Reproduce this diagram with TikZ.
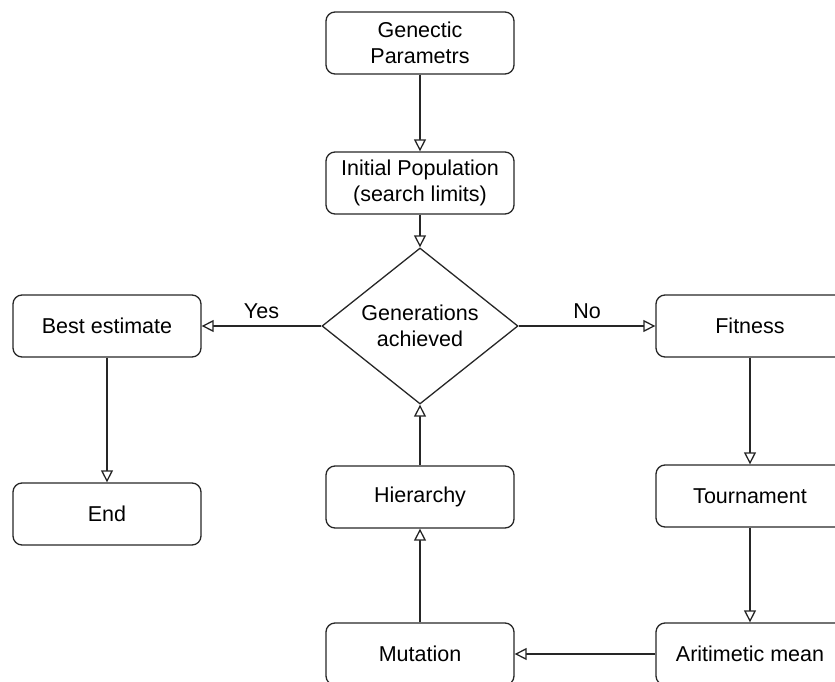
\documentclass[tikz,border=0pt]{standalone}
\usepackage{fontspec}
\setmainfont{Liberation Sans}
\usetikzlibrary{arrows.meta,shapes.geometric}
\begin{document}
\begin{tikzpicture}[x=1pt,y=-1pt,
  box/.style={draw=black!85, line width=1.3pt, rounded corners=9pt, minimum width=188pt, minimum height=62pt, align=center, inner sep=0pt, font=\fontsize{21.5}{26}\selectfont},
  dia/.style={draw=black!85, line width=1.3pt, diamond, minimum width=196pt, minimum height=156pt, aspect=1.2564, inner sep=0pt},
  dtext/.style={align=center, inner sep=0pt, font=\fontsize{21.5}{26}\selectfont},
  conn/.style={draw=black!85, line width=1.3pt, -{Triangle[open, length=12pt, width=12pt, fill=white]}},
  lbl/.style={font=\fontsize{21.5}{26}\selectfont, inner sep=0pt}]
\useasboundingbox (0,0) rectangle (835,682);
\clip (0,0) rectangle (835,682);
\node[box] (gp) at (420,43) {Genectic\\Parametrs};
\node[box] (ip) at (420,183) {Initial Population\\(search limits)};
\node[dia] (ga) at (420,326) {};
\node[dtext] (gat) at (ga.center) {Generations\\achieved};
\node[box] (be) at (107,326) {Best estimate};
\node[box] (en) at (107,514) {End};
\node[box] (fi) at (750,326) {Fitness};
\node[box] (to) at (750,496) {Tournament};
\node[box] (am) at (750,654) {Aritimetic mean};
\node[box] (hi) at (420,497) {Hierarchy};
\node[box] (mu) at (420,654) {Mutation};
\draw[conn] (gp) -- (ip);
\draw[conn] (ip) -- (ga.north);
\draw[conn] (ga.west) -- node[lbl, above=7pt] {Yes} (be);
\draw[conn] (ga.east) -- node[lbl, above=7pt] {No} (fi);
\draw[conn] (be) -- (en);
\draw[conn] (fi) -- (to);
\draw[conn] (to) -- (am);
\draw[conn] (am) -- (mu);
\draw[conn] (mu) -- (hi);
\draw[conn] (hi) -- (ga.south);
\end{tikzpicture}
\end{document}
